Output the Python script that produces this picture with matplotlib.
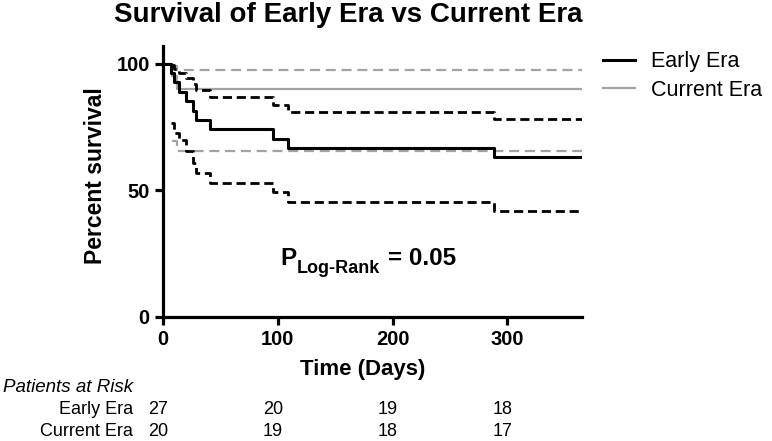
import matplotlib
matplotlib.use("Agg")
import matplotlib.pyplot as plt
import matplotlib.transforms as mtransforms

plt.rcParams['font.family'] = ['Liberation Sans', 'DejaVu Sans']

# ---------------- data ----------------
early_days = [0, 7, 10, 14, 20, 26, 29, 41, 96, 109, 288, 365]
early_surv = [100, 96.3, 92.6, 88.9, 85.2, 81.5, 77.8, 74.1, 70.4, 66.7, 63.0, 63.0]
early_ci_days = [7, 10, 14, 20, 26, 29, 41, 96, 109, 288, 365]
early_upper = [99.5, 98.1, 96.3, 94.2, 92.0, 89.6, 86.7, 83.8, 80.9, 78.1, 78.1]
early_lower = [76.5, 72.8, 69.9, 65.5, 61.0, 56.8, 53.1, 49.5, 45.6, 41.9, 41.9]

current_days = [0, 8, 12, 365]
current_surv = [100, 95.0, 90.0, 90.0]
current_ci_days = [8, 12, 365]
current_upper = [99.3, 97.4, 97.4]
current_lower = [69.5, 65.6, 65.6]

series_names = ["Early Era", "Current Era"]
risk_times = [0, 100, 200, 300]
risk_early = [27, 20, 19, 18]
risk_current = [20, 19, 18, 17]

x_ticks = [0, 100, 200, 300]
y_ticks = [0, 50, 100]
title = "Survival of Early Era vs Current Era"
p_main, p_sub, p_value = "P", "Log-Rank", "= 0.05"

# ---------------- figure ----------------
W, H = 772, 441
fig = plt.figure(figsize=(W / 100, H / 100), dpi=100)


def fx(px):
    return px / W


def fy(py):
    return 1 - py / H


ax = fig.add_axes([fx(163), fy(317), fx(582) - fx(163), fy(46) - fy(317)])
ax.set_xlim(0, 365)
ax.set_ylim(0, 107)

black = "#000000"
grey = "#a3a3a3"

# current era (drawn first, beneath)
h_cur, = ax.step(current_days, current_surv, where="post", color=grey, lw=1.6)
ax.step(current_ci_days, current_upper, where="post", color=grey, lw=1.6,
        dashes=(4.5, 2.6))
ax.step(current_ci_days, current_lower, where="post", color=grey, lw=1.6,
        dashes=(4.5, 2.6))

# early era
h_early, = ax.step(early_days, early_surv, where="post", color=black, lw=2.2)
ax.step(early_ci_days, early_upper, where="post", color=black, lw=2.0,
        dashes=(3.3, 1.7))
ax.step(early_ci_days, early_lower, where="post", color=black, lw=2.0,
        dashes=(3.3, 1.7))

for s in ["top", "right"]:
    ax.spines[s].set_visible(False)
for s in ["left", "bottom"]:
    ax.spines[s].set_linewidth(2.3)
ax.set_xticks(x_ticks)
ax.set_yticks(y_ticks)
ax.tick_params(axis="both", length=6, width=2.3, direction="out", pad=3.5,
               labelsize=14.5)
for lab in ax.get_xticklabels() + ax.get_yticklabels():
    lab.set_fontweight("bold")

# titles
fig.text(fx(348), fy(15), title, ha="center", va="center", fontsize=20,
         fontweight="bold")
fig.text(fx(96), fy(176), "Percent survival", ha="center", va="center",
         rotation=90, fontsize=16.5, fontweight="bold")
fig.text(fx(363), fy(370), "Time (Days)", ha="center", va="center",
         fontsize=16, fontweight="bold")

# legend
fig.legend(handles=[h_early, h_cur], labels=series_names, loc="center left",
           bbox_to_anchor=(fx(603), fy(76)), frameon=False, fontsize=15.5,
           handlelength=1.5, handletextpad=0.75, labelspacing=0.35,
           borderpad=0, borderaxespad=0)

# P log-rank annotation
t_p = fig.text(fx(280), fy(265), p_main, ha="left", va="baseline",
               fontsize=17.5, fontweight="bold")
t_sub = ax.annotate(p_sub, xy=(1, 0), xycoords=t_p, xytext=(1, -3),
                    textcoords="offset pixels", ha="left", va="baseline",
                    fontsize=13, fontweight="bold", annotation_clip=False)
ax.annotate(p_value, xy=(1, 0), xycoords=(t_sub, t_p), xytext=(8, 0),
            textcoords="offset pixels", ha="left", va="bottom",
            fontsize=17.5, fontweight="bold", annotation_clip=False)

# patients at risk table
fig.text(fx(3), fy(388), "Patients at Risk", ha="left", va="center",
         fontsize=13.5, style="italic")
fig.text(fx(133), fy(410), series_names[0], ha="right", va="center", fontsize=13)
fig.text(fx(133), fy(431), series_names[1], ha="right", va="center", fontsize=13)
blend = mtransforms.blended_transform_factory(ax.transData, fig.transFigure)
off = mtransforms.offset_copy(blend, fig=fig, x=-5, y=0, units="dots")
for t, a, b in zip(risk_times, risk_early, risk_current):
    fig.text(t, fy(410), str(a), transform=off, ha="center", va="center",
             fontsize=13)
    fig.text(t, fy(431), str(b), transform=off, ha="center", va="center",
             fontsize=13)

fig.savefig("out.png", dpi=100)
